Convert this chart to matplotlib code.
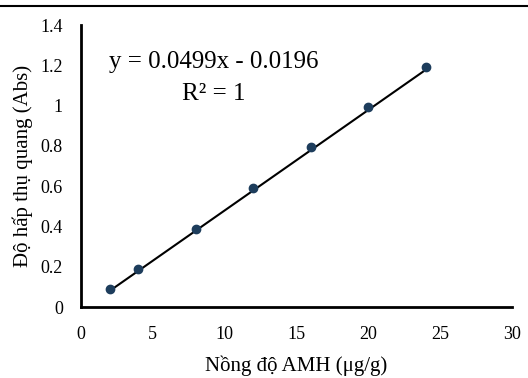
import matplotlib
matplotlib.use("Agg")
import matplotlib.pyplot as plt
from matplotlib.lines import Line2D
import numpy as np

# calibration data
conc = [2, 4, 8, 12, 16, 20, 24]
absorb = [0.09, 0.187, 0.386, 0.589, 0.795, 0.995, 1.19]
slope = 0.0499
intercept = -0.0196

plt.rcParams['font.family'] = ['Liberation Serif', 'DejaVu Serif']

fig = plt.figure(figsize=(5.28, 3.78), dpi=100)
ax = fig.add_axes([0.1534, 0.1878, 0.8163, 0.746])

# trendline
xs = np.array([conc[0], conc[-1]])
ax.plot(xs, slope * xs + intercept, color='black', lw=1.5, zorder=2)
ax.plot(conc, absorb, 'o', color='#1d3d5c', ms=6, zorder=3)

ax.set_xlim(0, 30)
ax.set_ylim(0, 1.4)
ax.set_xticks([0, 5, 10, 15, 20, 25, 30])
ax.set_yticks([0, 0.2, 0.4, 0.6, 0.8, 1.0, 1.2, 1.4])
ax.set_yticklabels(['0', '0.2', '0.4', '0.6', '0.8', '1', '1.2', '1.4'])
ax.tick_params(length=0, labelsize=13)
ax.tick_params(axis='y', pad=13)
ax.tick_params(axis='x', pad=14)

for s in ['top', 'right']:
    ax.spines[s].set_visible(False)
for s in ['left', 'bottom']:
    ax.spines[s].set_linewidth(2)

ax.set_xlabel('Nồng độ AMH (μg/g)', fontsize=15, labelpad=9)
ax.set_ylabel('Độ hấp thụ quang (Abs)', fontsize=15, labelpad=5)

ax.text(0.309, 0.87, 'y = 0.0499x - 0.0196', transform=ax.transAxes,
        fontsize=18, ha='center', va='center')
ax.text(0.309, 0.755, 'R² = 1', transform=ax.transAxes,
        fontsize=18, ha='center', va='center')

# rule across the top of the image
fig.add_artist(Line2D([0, 1], [0.984, 0.984], color='black', lw=1.5,
                      transform=fig.transFigure))

fig.savefig('out.png', dpi=100)
